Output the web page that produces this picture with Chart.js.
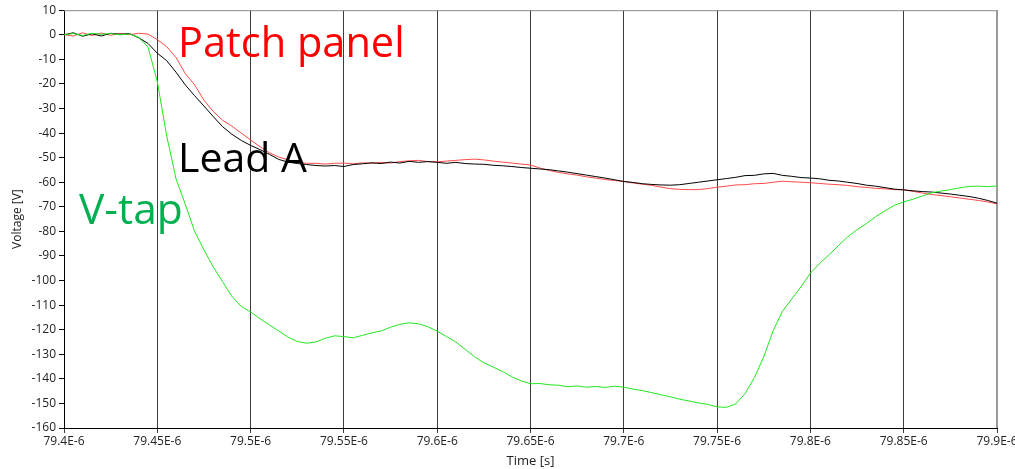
<!DOCTYPE html>
<html>
<head>
<meta charset="utf-8">
<script src="https://cdn.jsdelivr.net/npm/chart.js@4/dist/chart.umd.min.js"></script>
<style>
  html, body { margin: 0; padding: 0; background: #fff; }
  #wrap { width: 1015px; height: 469px; position: relative; }
</style>
</head>
<body>
<div id="wrap"><canvas id="c" width="1015" height="469"></canvas></div>
<script>
// Sample times in microseconds (tick labels print them as "...E-6")
const timeUs = [];
for (let i = 0; i <= 100; i++) timeUs.push(+(79.4 + i * 0.005).toFixed(3));

// V-tap voltage [V]
const vTap = [
  0, 0.5, -0.3, 0.6, 0.2, 0.5, 0, 0.3, -1, -5,
  -19, -41, -58.5, -69, -80, -87.5, -94.5, -100.5, -106.5, -110.5,
  -112.8, -115.5, -118, -120.5, -123, -124.8, -125.5, -125, -123.5, -122.5,
  -122.8, -123.3, -122.3, -121.3, -120.5, -119, -117.8, -117.2, -117.6, -118.8,
  -120.6, -122.8, -125, -128, -131, -133.5, -135.2, -137, -139.2, -140.8,
  -142, -141.9, -142.4, -142.6, -143.2, -142.9, -143.4, -143.1, -143.5, -143.0,
  -143.4, -144.2, -144.8, -145.6, -146.5, -147.3, -148.3, -149, -149.8, -150.4,
  -151.4, -151.6, -150.2, -146, -139.5, -131, -120.5, -112.5, -107.5, -102.5,
  -97, -93, -89.5, -85.8, -82.2, -79.3, -76.8, -74, -71.6, -69.4,
  -68, -66.9, -65.6, -64.3, -63.6, -63, -62.3, -61.7, -61.6, -61.8,
  -61.5
];

// Lead A voltage [V]
const leadA = [
  0, 0.8, -0.6, 0.4, -0.5, 0.6, 0.2, 0.5, -1.2, -3.5,
  -7.5, -10.5, -15.2, -20.4, -24.8, -29, -33.3, -37.4, -40.5, -43,
  -45, -46.7, -48.6, -50.7, -51.8, -52.4, -52.8, -53.2, -53.4, -53.2,
  -53.6, -52.8, -52.5, -52.1, -52.4, -51.8, -52.2, -51.5, -51.9, -51.6,
  -51.9, -52.3, -51.9, -52.4, -52.6, -52.7, -53.1, -53.3, -53.6, -54,
  -54.3, -54.6, -54.9, -55.4, -55.9, -56.5, -57.1, -57.7, -58.3, -59,
  -59.7, -60.1, -60.6, -60.9, -61.1, -61.2, -61, -60.5, -60, -59.5,
  -59, -58.5, -58, -57.3, -57.2, -56.6, -56.4, -57.2, -57.6, -58.1,
  -58.3, -58.6, -59.2, -59.5, -60, -60.5, -61.2, -61.6, -62.2, -62.8,
  -63.1, -63.5, -63.8, -64, -64.4, -64.8, -65.3, -65.8, -66.5, -67.4,
  -68.5
];

// Patch panel voltage [V]
const patchPanel = [
  0, -0.5, 0.8, -0.3, 0.7, -0.2, 0.5, 0, 0.6, 0.3,
  -2, -4.8, -9.2, -15.8, -20.4, -26.6, -31.2, -34.8, -37.2, -40,
  -42.8, -45.5, -48, -49.7, -50.9, -51.8, -52.3, -52.3, -52.6, -52.3,
  -52.2, -52.5, -52.1, -52.3, -51.9, -52.2, -51.6, -51.3, -51.1, -51.6,
  -51.7, -51.4, -51.1, -50.8, -50.6, -50.9, -51.4, -51.8, -52.2, -52.6,
  -53, -54.2, -55.2, -56, -56.6, -57.1, -57.8, -58.3, -58.9, -59.3,
  -59.7, -60.3, -60.8, -61.3, -62, -62.6, -62.9, -63, -63, -62.6,
  -62, -61.6, -61.1, -61, -60.6, -60.5, -60, -59.6, -59.8, -60,
  -60.2, -60.5, -60.8, -61, -61.3, -61.8, -62.1, -62.5, -62.7, -63,
  -63.1, -63.7, -64.4, -65, -65.4, -65.9, -66.4, -66.9, -67.4, -68,
  -68.8
];

// Axis ranges
const xMin = 79.4, xMax = 79.9, xStep = 0.05;
const yMin = -160, yMax = 10, yStep = 10;

// In-plot series captions
const captions = [
  { text: 'Patch panel', color: '#ff0000', x: 178, y: 57, size: 41.5 },
  { text: 'Lead A', color: '#000000', x: 178, y: 172, size: 41 },
  { text: 'V-tap', color: '#00b050', x: 79, y: 224, size: 42.5 }
];

const pts = arr => arr.map((v, i) => ({ x: timeUs[i], y: v }));

const framePlugin = {
  id: 'frame',
  beforeDatasetsDraw(chart) {
    const { ctx, chartArea: a } = chart;
    ctx.save();
    ctx.strokeStyle = '#8a8a8a';
    ctx.lineWidth = 1;
    ctx.beginPath();
    ctx.moveTo(a.left, a.top + 0.5);
    ctx.lineTo(a.right, a.top + 0.5);
    ctx.stroke();
    ctx.strokeStyle = '#9a9a9a';
    ctx.lineWidth = 2;
    ctx.beginPath();
    ctx.moveTo(a.right, a.top);
    ctx.lineTo(a.right, a.bottom);
    ctx.stroke();
    ctx.restore();
  },
  afterDatasetsDraw(chart) {
    const { ctx } = chart;
    ctx.save();
    ctx.textBaseline = 'alphabetic';
    ctx.textAlign = 'left';
    captions.forEach(c => {
      ctx.font = c.size + 'px "Open Sans", sans-serif';
      ctx.fillStyle = c.color;
      ctx.fillText(c.text, c.x, c.y);
    });
    ctx.restore();
  }
};

const tickFont = { family: '"Open Sans", sans-serif', size: 12 };

new Chart(document.getElementById('c'), {
  type: 'line',
  data: {
    datasets: [
      { label: 'V-tap', data: pts(vTap), borderColor: '#22e622', borderWidth: 1 },
      { label: 'Lead A', data: pts(leadA), borderColor: '#000000', borderWidth: 1 },
      { label: 'Patch panel', data: pts(patchPanel), borderColor: '#ff4a4a', borderWidth: 1 }
    ]
  },
  options: {
    responsive: false,
    animation: false,
    events: [],
    layout: { padding: { top: 10, right: 18, left: 0, bottom: 0 } },
    elements: { point: { radius: 0 }, line: { tension: 0 } },
    plugins: { legend: { display: false }, tooltip: { enabled: false } },
    scales: {
      x: {
        type: 'linear',
        min: xMin, max: xMax,
        afterBuildTicks(scale) {
          const t = [];
          for (let v = xMin; v <= xMax + 1e-9; v += xStep) t.push({ value: +v.toFixed(3) });
          scale.ticks = t;
        },
        afterFit(scale) { scale.height = 41; scale.paddingLeft = 0; scale.paddingRight = 0; },
        ticks: {
          font: tickFont, color: '#222', padding: 1, maxRotation: 0, autoSkip: false,
          callback: v => parseFloat((+v).toFixed(3)) + 'E-6'
        },
        grid: { color: '#3c3c3c', lineWidth: 1, tickLength: 5, drawOnChartArea: true },
        border: { color: '#000', width: 1 },
        title: { display: true, text: 'Time [s]', font: { family: '"Open Sans", sans-serif', size: 13 }, color: '#222', padding: { top: 0, bottom: 0 } }
      },
      y: {
        min: yMin, max: yMax,
        afterBuildTicks(scale) {
          const t = [];
          for (let v = yMax; v >= yMin; v -= yStep) t.push({ value: v });
          scale.ticks = t;
        },
        afterFit(scale) { scale.width = 64; },
        ticks: { font: tickFont, color: '#222', padding: 3, autoSkip: false },
        grid: { drawOnChartArea: false, color: '#000', tickLength: 5 },
        border: { color: '#000', width: 1 },
        title: { display: true, text: 'Voltage [V]', font: { family: '"Open Sans", sans-serif', size: 12 }, color: '#222', padding: { top: 10, bottom: 0 } }
      }
    }
  },
  plugins: [framePlugin]
});
</script>
</body>
</html>
